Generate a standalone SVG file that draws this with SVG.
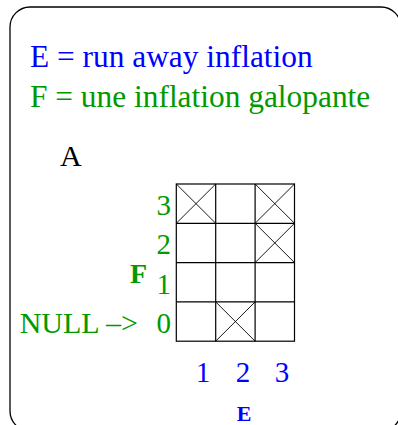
<svg xmlns="http://www.w3.org/2000/svg" width="398" height="425" viewBox="0 0 398 425">
<style>
text{font-family:"Liberation Serif","Times New Roman",serif}
.b{fill:#0000ff}
.g{fill:#009900}
.grid{fill:none;stroke:#000;stroke-width:1.2}
.x{stroke:#000;stroke-width:0.9}
</style>
<rect x="10" y="7" width="391" height="424" rx="20" ry="20" fill="#fff" stroke="#000" stroke-width="1.3"/>
<g id="legend">
<text class="b" x="30" y="67" font-size="31.4">E = run away inflation</text>
<text class="g" x="30" y="107" font-size="31.4">F = une inflation galopante</text>
</g>
<g id="title"><text x="60" y="166" font-size="30" fill="#000">A</text></g>
<g id="grid">
<rect class="grid" x="176.3" y="184" width="118.2" height="157.2"/>
<path class="grid" d="M215.7 184V341.2M255.1 184V341.2M176.3 223.3H294.5M176.3 262.6H294.5M176.3 301.9H294.5"/>
<path class="x" d="M176.3 184L215.7 223.3M215.7 184L176.3 223.3M255.1 184L294.5 223.3M294.5 184L255.1 223.3M255.1 223.3L294.5 262.6M294.5 223.3L255.1 262.6M215.7 301.9L255.1 341.2M255.1 301.9L215.7 341.2"/>
</g>
<g id="f-axis" class="g" font-size="29" text-anchor="end">
<text x="171" y="215">3</text>
<text x="171" y="254">2</text>
<text x="171" y="293.5">1</text>
<text x="171" y="333">0</text>
<text x="138" y="333" font-size="30">NULL –&gt;</text>
<text x="147" y="283" font-weight="bold" font-size="28">F</text>
</g>
<g id="e-axis" class="b" font-size="29" text-anchor="middle">
<text x="203" y="382">1</text>
<text x="243" y="382">2</text>
<text x="282" y="382">3</text>
<text x="244" y="421" font-weight="bold" font-size="22">E</text>
</g>
</svg>
